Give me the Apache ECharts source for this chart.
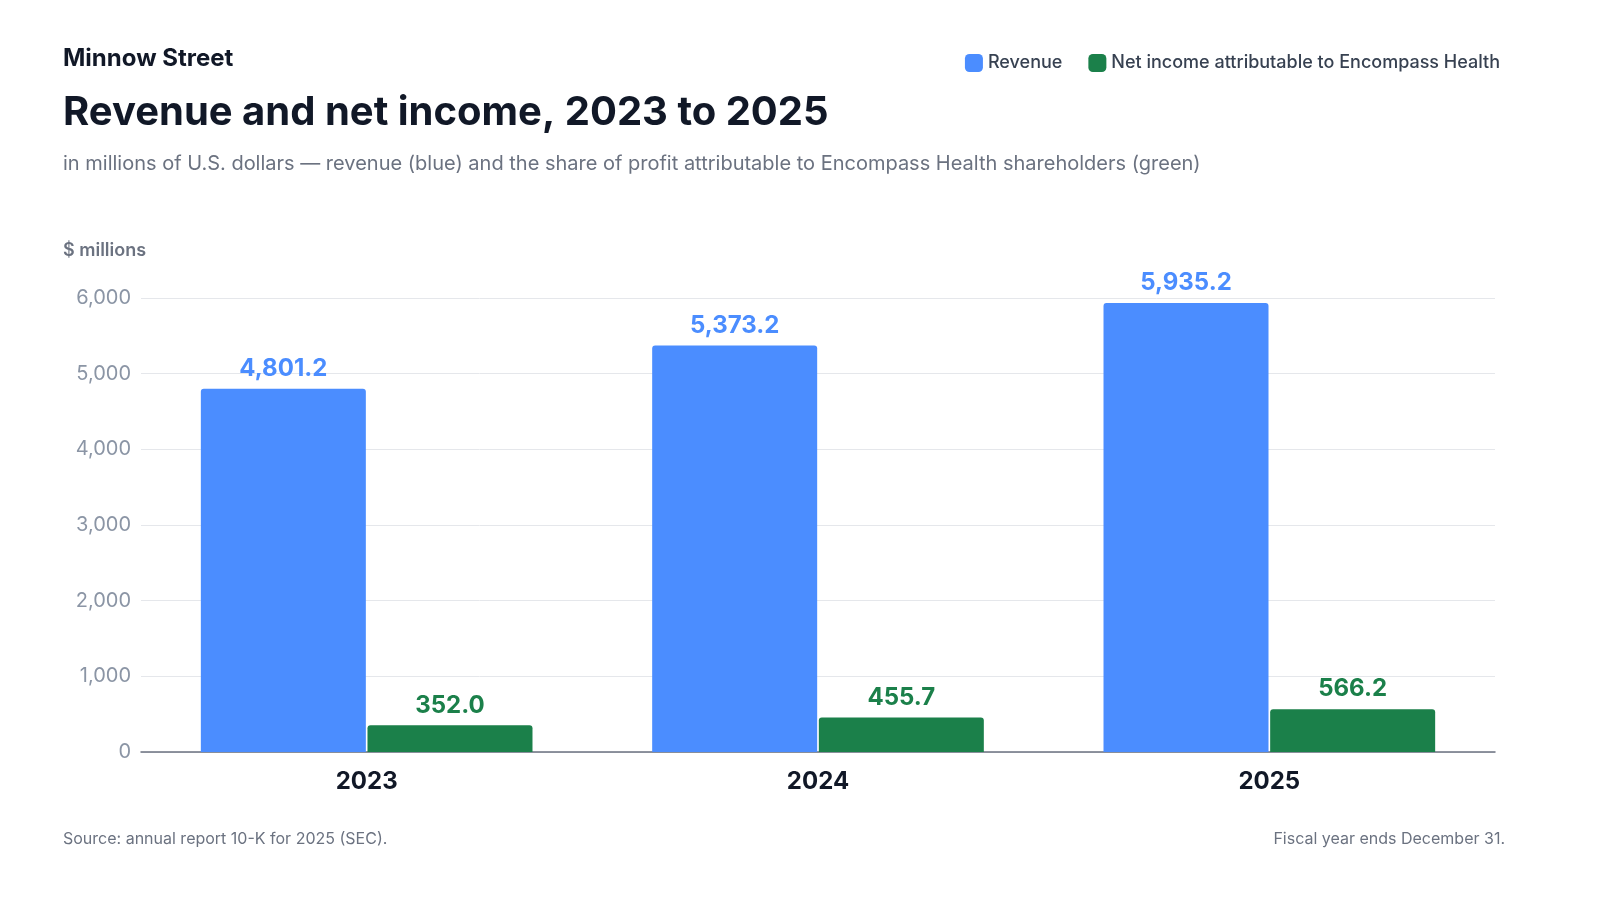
<!DOCTYPE html>
<html>
<head>
<meta charset="utf-8">
<script src="https://cdn.jsdelivr.net/npm/echarts@6/dist/echarts.min.js"></script>
<style>
  html, body { margin: 0; padding: 0; background: #fff; }
  #main { width: 1600px; height: 900px; }
</style>
</head>
<body>
<div id="main"></div>
<script>
const years = ['2023', '2024', '2025'];
const revenue = [4801.2, 5373.2, 5935.2];
const netIncome = [352.0, 455.7, 566.2];

const blue = '#4b8dff';
const green = '#1b804a';
const font = 'Inter';

var myChart = echarts.init(document.getElementById('main'));

const fmt = v => v.toLocaleString('en-US', {minimumFractionDigits: 1, maximumFractionDigits: 1});

let option = {
    textStyle: {fontFamily: font},
    graphic: [
        {type: 'text', left: 63, top: 47, style: {text: 'Minnow Street', font: '700 24px Inter', fill: '#111827'}},
        {type: 'text', left: 63, top: 93, style: {text: 'Revenue and net income, 2023 to 2025', font: '700 40px Inter', fill: '#111827'}},
        {type: 'text', left: 63, top: 154, style: {text: 'in millions of U.S. dollars \u2014 revenue (blue) and the share of profit attributable to Encompass Health shareholders (green)', font: '400 20px Inter', fill: '#6b7280'}},
        {type: 'text', left: 63, top: 242, style: {text: '$ millions', font: '600 18px Inter', fill: '#6b7280'}},
        {type: 'text', left: 63, top: 831, style: {text: 'Source: annual report 10-K for 2025 (SEC).', font: '400 16px Inter', fill: '#6b7280'}},
        {type: 'text', right: 95, top: 831, style: {text: 'Fiscal year ends December 31.', font: '400 16px Inter', fill: '#6b7280', align: 'right'}}
    ],
    legend: {
        right: 95, top: 49, itemWidth: 18, itemHeight: 18, itemGap: 26,
        icon: 'roundRect',
        textStyle: {fontSize: 18, color: '#374151', fontFamily: font, fontWeight: 500},
        data: ['Revenue', 'Net income attributable to Encompass Health']
    },
    grid: {left: 141, right: 105, top: 298, bottom: 148},
    xAxis: {
        type: 'category', data: years,
        axisTick: {show: false},
        axisLine: {lineStyle: {color: '#6b7280', width: 1.5}},
        axisLabel: {fontSize: 24, fontWeight: 700, color: '#111827', margin: 18}
    },
    yAxis: {
        type: 'value', min: 0, max: 6000, interval: 1000,
        axisLabel: {fontSize: 20, color: '#8b95a5', margin: 10, formatter: v => v.toLocaleString('en-US')},
        splitLine: {lineStyle: {color: '#e5e7eb'}}
    },
    series: [
        {
            name: 'Revenue', type: 'bar', data: revenue, barWidth: 165, barGap: '1%',
            itemStyle: {color: blue, borderRadius: [3, 3, 0, 0]},
            label: {show: true, position: 'top', distance: 8, fontSize: 24, fontWeight: 700, color: blue, formatter: p => fmt(p.value)}
        },
        {
            name: 'Net income attributable to Encompass Health', type: 'bar', data: netIncome, barWidth: 165,
            itemStyle: {color: green, borderRadius: [3, 3, 0, 0]},
            label: {show: true, position: 'top', distance: 8, fontSize: 24, fontWeight: 700, color: green, formatter: p => fmt(p.value)}
        }
    ]
};

myChart.setOption(option);
</script>
</body>
</html>
